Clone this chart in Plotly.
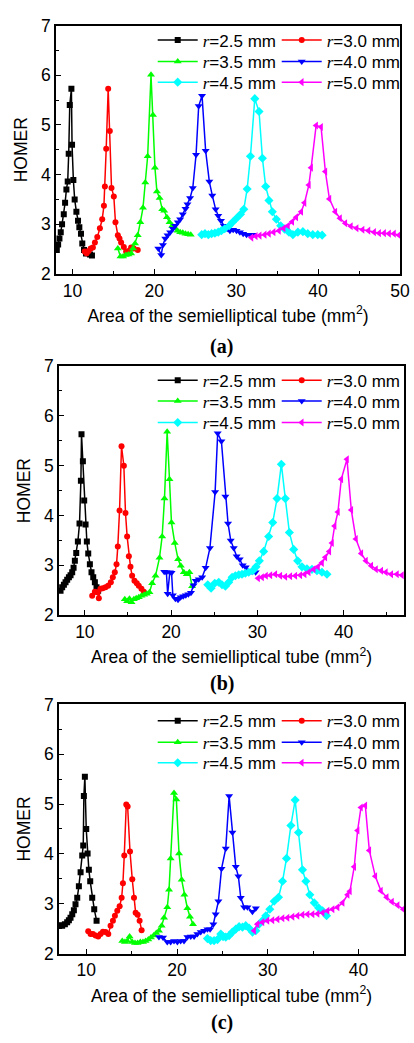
import plotly.graph_objects as go

# ---------------- data ----------------
series_names = ["r=2.5 mm", "r=3.0 mm", "r=3.5 mm", "r=4.0 mm", "r=4.5 mm", "r=5.0 mm"]
x_ticks = [10, 20, 30, 40, 50]
y_ticks = [2, 3, 4, 5, 6, 7]

# panel (a)
a_x_25 = [8.1, 8.26, 8.42, 8.58, 8.74, 8.95, 9.11, 9.27, 9.43, 9.55, 9.68, 9.88, 9.96, 10.12, 10.28, 10.49, 10.69, 10.85, 11.05, 11.21, 11.42, 11.66, 11.9, 12.15, 12.39]
a_y_25 = [2.48, 2.59, 2.71, 2.84, 3.0, 3.2, 3.43, 3.7, 3.86, 4.42, 5.4, 5.73, 4.6, 3.89, 3.5, 3.25, 3.07, 2.94, 2.81, 2.61, 2.48, 2.41, 2.43, 2.39, 2.37]
a_x_30 = [11.5, 11.74, 11.98, 12.23, 12.5, 12.75, 13.04, 13.36, 13.64, 13.85, 13.97, 14.13, 14.37, 14.57, 14.78, 15.06, 15.26, 15.55, 15.75, 15.95, 16.28, 16.56, 16.88, 17.17, 17.49, 17.98]
a_y_30 = [2.45, 2.41, 2.46, 2.51, 2.53, 2.63, 2.74, 2.92, 3.1, 3.37, 3.76, 4.52, 5.73, 4.88, 3.73, 3.56, 3.04, 2.78, 2.71, 2.63, 2.54, 2.45, 2.46, 2.53, 2.51, 2.48]
a_x_35 = [15.55, 15.87, 16.19, 16.52, 16.84, 17.17, 17.4, 17.65, 17.98, 18.3, 18.62, 18.9, 19.19, 19.6, 19.84, 20.08, 20.32, 20.65, 20.97, 21.21, 21.54, 21.86, 22.19, 22.51, 22.83, 23.16, 23.48, 23.81, 24.13, 24.45]
a_y_35 = [2.51, 2.35, 2.35, 2.38, 2.39, 2.41, 2.51, 2.61, 2.78, 3.04, 3.33, 3.84, 4.37, 6.01, 5.2, 4.14, 3.66, 3.53, 3.3, 3.27, 3.14, 3.04, 2.97, 2.92, 2.87, 2.84, 2.83, 2.81, 2.8, 2.79]
a_x_40 = [20.49, 20.85, 21.05, 21.34, 21.62, 21.94, 22.27, 22.55, 22.87, 23.16, 23.48, 23.81, 24.05, 24.37, 24.7, 25.1, 25.42, 25.83, 26.27, 26.72, 27.08, 27.49, 27.81, 28.14, 28.5, 28.9, 29.23, 29.63, 30.04, 30.45, 30.85, 31.26, 31.66, 32.06]
a_y_40 = [2.51, 2.38, 2.58, 2.71, 2.78, 2.84, 2.91, 2.97, 3.04, 3.1, 3.2, 3.31, 3.4, 3.53, 3.73, 4.4, 5.38, 5.59, 4.48, 3.86, 3.58, 3.3, 3.17, 3.07, 2.97, 2.91, 2.87, 2.89, 2.87, 2.84, 2.81, 2.79, 2.79, 2.79]
a_x_45 = [25.79, 26.19, 26.6, 27.0, 27.4, 27.81, 28.2, 28.6, 29.15, 29.55, 30.04, 30.53, 30.93, 31.34, 31.74, 32.27, 32.79, 33.2, 33.6, 34.0, 34.41, 34.9, 35.43, 35.91, 36.44, 36.92, 37.53, 38.14, 38.74, 39.35, 39.96, 40.49]
a_y_45 = [2.79, 2.81, 2.79, 2.81, 2.82, 2.84, 2.87, 2.91, 2.97, 3.04, 3.12, 3.2, 3.3, 3.71, 4.37, 5.53, 5.27, 4.33, 3.76, 3.48, 3.25, 3.1, 2.97, 2.9, 2.84, 2.79, 2.84, 2.85, 2.81, 2.79, 2.79, 2.78]
a_x_50 = [31.86, 32.39, 32.87, 33.48, 34.0, 34.57, 35.22, 35.79, 36.32, 36.84, 37.33, 37.94, 38.34, 38.87, 39.15, 39.76, 40.36, 40.89, 41.38, 42.1, 42.67, 43.32, 44.0, 44.7, 45.43, 46.15, 46.84, 47.45, 48.06, 48.66, 49.27, 49.88]
a_y_50 = [2.73, 2.76, 2.77, 2.79, 2.81, 2.84, 2.87, 2.92, 2.97, 3.05, 3.14, 3.25, 3.43, 3.79, 4.14, 4.99, 4.96, 4.06, 3.51, 3.25, 3.12, 3.02, 2.96, 2.92, 2.89, 2.87, 2.84, 2.82, 2.82, 2.81, 2.81, 2.78]

# panel (b)
b_x_25 = [7.18, 7.37, 7.57, 7.76, 7.95, 8.15, 8.34, 8.53, 8.69, 8.84, 9.0, 9.19, 9.38, 9.54, 9.61, 9.77, 9.92, 10.08, 10.23, 10.39, 10.58, 10.77, 10.97, 11.16, 11.35, 11.54]
b_y_25 = [2.49, 2.56, 2.61, 2.66, 2.71, 2.76, 2.8, 2.86, 2.95, 3.09, 3.25, 3.48, 3.84, 4.7, 5.63, 5.09, 4.3, 3.82, 3.48, 3.24, 3.02, 2.86, 2.76, 2.66, 2.56, 2.49]
b_x_30 = [10.85, 11.16, 11.43, 11.62, 11.81, 12.08, 12.39, 12.7, 13.01, 13.24, 13.47, 13.67, 13.82, 14.02, 14.25, 14.52, 14.71, 14.9, 15.1, 15.29, 15.48, 15.75, 16.02, 16.25, 16.56, 16.83]
b_y_30 = [2.39, 2.47, 2.46, 2.34, 2.53, 2.54, 2.56, 2.59, 2.66, 2.76, 2.86, 3.02, 3.38, 4.1, 5.39, 5.0, 4.05, 3.58, 3.18, 2.97, 2.79, 2.69, 2.64, 2.59, 2.53, 2.47]
b_x_35 = [14.63, 14.9, 15.17, 15.41, 15.68, 15.95, 16.25, 16.56, 16.87, 17.18, 17.49, 17.8, 18.19, 18.65, 18.96, 19.23, 19.54, 19.81, 20.04, 20.42, 20.81, 21.12, 21.47, 21.81, 22.12, 22.43]
b_y_35 = [2.32, 2.28, 2.33, 2.26, 2.32, 2.34, 2.36, 2.39, 2.41, 2.43, 2.46, 2.64, 2.79, 3.15, 3.58, 4.34, 5.68, 4.73, 3.86, 3.45, 3.12, 2.99, 2.86, 2.82, 2.86, 2.58]
b_x_40 = [19.2, 19.45, 19.6, 19.85, 20.05, 20.2, 20.5, 20.8, 21.1, 21.4, 21.7, 22.0, 22.3, 22.6, 22.85, 23.2, 23.6, 24.0, 24.5, 25.1, 25.4, 25.83, 26.29, 26.6, 26.91, 27.26, 27.6, 27.95, 28.3, 28.65, 29.0, 29.4, 29.8]
b_y_40 = [2.87, 2.86, 2.43, 2.86, 2.85, 2.4, 2.33, 2.31, 2.36, 2.38, 2.4, 2.42, 2.45, 2.6, 2.69, 2.72, 2.76, 2.95, 3.35, 4.47, 5.65, 5.49, 4.38, 3.84, 3.5, 3.35, 3.18, 3.12, 3.0, 2.96, 2.89, 2.87, 2.86]
b_x_45 = [24.25, 24.63, 25.06, 25.52, 25.9, 26.29, 26.68, 27.07, 27.45, 27.84, 28.22, 28.61, 29.0, 29.46, 29.85, 30.23, 30.73, 31.31, 31.78, 32.28, 32.78, 33.24, 33.71, 34.21, 34.67, 35.17, 35.75, 36.33, 36.91, 37.49, 38.07]
b_y_45 = [2.61, 2.54, 2.64, 2.66, 2.61, 2.58, 2.66, 2.76, 2.79, 2.81, 2.82, 2.84, 2.86, 2.89, 2.97, 3.09, 3.28, 3.58, 3.86, 4.34, 5.03, 4.34, 3.66, 3.32, 3.09, 2.97, 2.93, 2.92, 2.89, 2.86, 2.82]
b_x_50 = [30.08, 30.54, 31.0, 31.51, 32.08, 32.66, 33.24, 33.82, 34.4, 34.98, 35.48, 35.95, 36.53, 37.03, 37.49, 37.88, 38.34, 38.65, 38.96, 39.34, 39.73, 40.39, 40.89, 41.43, 42.05, 42.59, 43.2, 43.75, 44.36, 44.9, 45.52, 46.18, 46.76]
b_y_50 = [2.74, 2.76, 2.79, 2.8, 2.82, 2.79, 2.77, 2.78, 2.79, 2.8, 2.82, 2.86, 2.92, 2.97, 3.05, 3.16, 3.28, 3.45, 3.79, 4.07, 4.73, 5.13, 4.11, 3.53, 3.24, 3.09, 2.99, 2.92, 2.89, 2.86, 2.82, 2.82, 2.8]

# panel (c)
c_x_25 = [7.06, 7.35, 7.65, 7.9, 8.09, 8.27, 8.46, 8.64, 8.82, 9.01, 9.19, 9.38, 9.56, 9.67, 9.74, 9.85, 10.0, 10.15, 10.29, 10.44, 10.66, 10.88, 11.14]
c_y_25 = [2.57, 2.56, 2.59, 2.63, 2.67, 2.72, 2.79, 2.87, 2.99, 3.12, 3.35, 3.63, 3.97, 4.17, 5.16, 5.55, 4.5, 4.01, 3.68, 3.45, 3.12, 2.89, 2.66]
c_x_30 = [10.22, 10.48, 10.74, 11.03, 11.32, 11.58, 11.84, 12.13, 12.43, 12.68, 12.94, 13.16, 13.42, 13.68, 13.9, 14.04, 14.19, 14.41, 14.56, 14.82, 15.07, 15.26, 15.44, 15.66, 15.88, 16.1]
c_y_30 = [2.45, 2.39, 2.39, 2.36, 2.34, 2.39, 2.44, 2.43, 2.39, 2.56, 2.66, 2.76, 2.86, 2.95, 3.12, 3.41, 3.97, 4.99, 4.95, 4.05, 3.49, 3.12, 2.82, 2.78, 2.66, 2.47]
c_x_35 = [13.97, 14.26, 14.52, 14.78, 15.07, 15.37, 15.66, 15.96, 16.25, 16.54, 16.84, 17.13, 17.43, 17.72, 18.01, 18.31, 18.57, 18.93, 19.12, 19.3, 19.67, 19.93, 20.22, 20.51, 20.81, 21.14, 21.43, 21.76]
c_y_35 = [2.25, 2.23, 2.25, 2.34, 2.23, 2.21, 2.21, 2.23, 2.23, 2.25, 2.28, 2.32, 2.36, 2.41, 2.46, 2.56, 2.72, 2.93, 3.28, 3.91, 5.22, 5.09, 4.01, 3.48, 3.18, 2.91, 2.74, 2.59]
c_x_40 = [18.01, 18.46, 18.93, 19.3, 19.67, 20.04, 20.4, 20.77, 21.14, 21.51, 21.88, 22.24, 22.61, 22.98, 23.35, 23.64, 24.0, 24.26, 24.56, 24.9, 25.37, 25.74, 26.1, 26.47, 26.76, 27.02, 27.39, 27.76, 28.31, 28.68]
c_y_40 = [2.33, 2.32, 2.23, 2.23, 2.25, 2.23, 2.25, 2.25, 2.33, 2.34, 2.34, 2.39, 2.43, 2.46, 2.49, 2.49, 2.59, 2.79, 3.05, 3.7, 4.11, 5.16, 4.43, 3.74, 3.55, 3.12, 2.93, 2.93, 2.84, 2.91]
c_x_45 = [23.35, 23.71, 24.08, 24.45, 24.82, 25.07, 25.37, 25.74, 26.1, 26.47, 26.84, 27.21, 27.57, 27.94, 28.31, 28.68, 29.04, 29.41, 29.78, 30.22, 30.7, 31.18, 31.62, 32.06, 32.54, 33.01, 33.38, 33.82, 34.19, 34.63, 35.11, 35.59, 36.03, 36.47]
c_y_45 = [2.3, 2.26, 2.26, 2.28, 2.39, 2.34, 2.33, 2.36, 2.43, 2.49, 2.54, 2.53, 2.56, 2.51, 2.43, 2.46, 2.59, 2.66, 2.76, 2.89, 3.05, 3.13, 3.45, 3.91, 4.57, 5.08, 4.43, 3.68, 3.45, 3.18, 3.02, 2.92, 2.86, 2.76]
c_x_50 = [28.49, 28.86, 29.41, 29.96, 30.51, 31.07, 31.62, 32.17, 32.72, 33.27, 33.82, 34.38, 34.93, 35.48, 36.03, 36.58, 37.13, 37.68, 38.24, 38.79, 39.04, 39.52, 39.89, 40.26, 40.74, 41.18, 41.84, 42.46, 43.09, 43.68, 44.3, 44.93]
c_y_50 = [2.46, 2.59, 2.63, 2.66, 2.67, 2.69, 2.71, 2.72, 2.74, 2.76, 2.78, 2.79, 2.79, 2.8, 2.82, 2.86, 2.89, 2.93, 3.02, 3.18, 3.25, 3.74, 4.47, 4.93, 4.97, 4.07, 3.55, 3.26, 3.13, 3.04, 2.97, 2.89]

panel_labels = ["(a)", "(b)", "(c)"]
x_title = "Area of the semielliptical tube (mm<sup>2</sup>)"
y_title = "HOMER"

# ---------------- style ----------------
colors = ["#000000", "#FF0000", "#00FF00", "#0000FF", "#00FFFF", "#FF00FF"]
symbols = ["square", "circle", "triangle-up", "triangle-down", "diamond", "triangle-left"]
msizes = [6, 6, 7, 7, 7, 7]

panels = [
    [(a_x_25, a_y_25), (a_x_30, a_y_30), (a_x_35, a_y_35), (a_x_40, a_y_40), (a_x_45, a_y_45), (a_x_50, a_y_50)],
    [(b_x_25, b_y_25), (b_x_30, b_y_30), (b_x_35, b_y_35), (b_x_40, b_y_40), (b_x_45, b_y_45), (b_x_50, b_y_50)],
    [(c_x_25, c_y_25), (c_x_30, c_y_30), (c_x_35, c_y_35), (c_x_40, c_y_40), (c_x_45, c_y_45), (c_x_50, c_y_50)],
]
x_ranges = [[8, 50], [7, 47], [7, 45]]

W, H = 414, 1043
ML, MR = 56, 9
GW = W - ML - MR
# pixel boxes of the three plot areas (left, right, top, bottom)
boxes = [(56, 401, 16, 269), (59, 405, 363, 617), (59, 405, 708, 962)]
# pixel centres of the three legend rows in each panel
legend_rows = [[31, 53, 74], [378, 399, 421], [725, 747, 768]]
legend_left = 153
title_y = [343, 687, 1032]

fig = go.Figure()
layout = dict(
    width=W, height=H,
    margin=dict(l=ML, r=MR, t=0, b=0),
    paper_bgcolor="white", plot_bgcolor="white",
    showlegend=True,
    font=dict(family="Liberation Sans, Arial", size=17, color="black"),
)
annotations = []

def legend_name(n):
    return "<span style='font-family:Liberation Serif'><i>r</i></span>" + n[1:]

def legend_key(k):
    return "legend" if k == 0 else f"legend{k+1}"

for p, series in enumerate(panels):
    xs = "x" if p == 0 else f"x{p+1}"
    ys = "y" if p == 0 else f"y{p+1}"
    for i, (xv, yv) in enumerate(series):
        fig.add_trace(go.Scatter(
            x=xv, y=yv, mode="lines+markers", name=legend_name(series_names[i]),
            line=dict(color=colors[i], width=1.5),
            marker=dict(symbol=symbols[i], size=msizes[i], color=colors[i]),
            xaxis=xs, yaxis=ys, legend=legend_key(3 * p + i // 2),
        ))
    l, r, t, b = boxes[p]
    xdom = [(l - ML) / GW, (r - ML) / GW]
    ydom = [1 - b / H, 1 - t / H]
    axkey = "xaxis" if p == 0 else f"xaxis{p+1}"
    aykey = "yaxis" if p == 0 else f"yaxis{p+1}"
    common = dict(showline=True, linecolor="black", linewidth=1.5, mirror=True,
                  ticks="inside", ticklen=5, tickwidth=1.2, tickcolor="black",
                  showgrid=False, zeroline=False,
                  tickfont=dict(size=17.5, family="Liberation Sans, Arial"))
    layout[axkey] = dict(common, domain=[max(0, xdom[0]), min(1, xdom[1])], range=x_ranges[p],
                         anchor=ys, tickvals=x_ticks,
                         minor=dict(dtick=5, tick0=0, ticks="inside", ticklen=3, tickcolor="black", tickwidth=1.2),
                         title=dict(text=x_title, font=dict(size=17.5), standoff=10))
    layout[aykey] = dict(common, domain=ydom, range=[2, 7], anchor=xs, tickvals=y_ticks,
                         minor=dict(dtick=0.5, tick0=0, ticks="inside", ticklen=3, tickcolor="black", tickwidth=1.2),
                         title=dict(text=y_title, font=dict(size=17.5), standoff=9))
    for k in range(3):
        layout[legend_key(3 * p + k)] = dict(
            x=(legend_left - ML) / GW, xanchor="left",
            y=1 - legend_rows[p][k] / H, yanchor="middle",
            orientation="h", bgcolor="rgba(0,0,0,0)", borderwidth=0,
            font=dict(size=17, family="Liberation Sans, Arial"),
            itemwidth=40, entrywidth=69, traceorder="normal")
    annotations.append(dict(text="<b>" + panel_labels[p] + "</b>", xref="paper", yref="paper",
                            x=(222 - ML) / GW, y=1 - title_y[p] / H, xanchor="center", yanchor="middle",
                            showarrow=False, font=dict(family="Liberation Serif, Times New Roman", size=20)))

layout["annotations"] = annotations
fig.update_layout(**layout)
fig.write_html("out.html")
